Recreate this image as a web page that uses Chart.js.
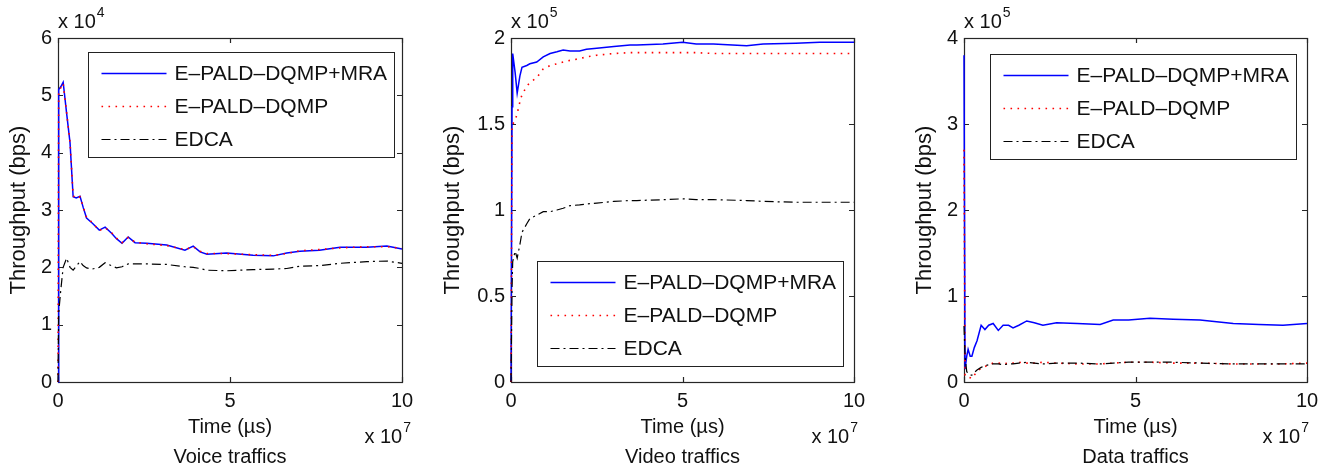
<!DOCTYPE html>
<html lang="en">
<head>
<meta charset="UTF-8">
<title>Throughput vs time - voice, video and data traffics</title>
<script src="https://cdn.jsdelivr.net/npm/chart.js"></script>
<style>
  body { margin: 0; background: #fff; }
  #wrap { position: relative; width: 1330px; height: 472px; overflow: hidden; }
  .panel { position: absolute; top: 0; }
</style>
</head>
<body>
<div id="wrap">
  <div class="panel" style="left:0px"><canvas id="voiceChart" width="430" height="472"></canvas></div>
  <div class="panel" style="left:430px"><canvas id="videoChart" width="460" height="472"></canvas></div>
  <div class="panel" style="left:890px"><canvas id="dataChart" width="440" height="472"></canvas></div>
</div>
<script>
// series names, same in all three panels
const seriesNames = ['E\u2013PALD\u2013DQMP+MRA', 'E\u2013PALD\u2013DQMP', 'EDCA'];

// Voice traffics: time in units of 10^7 us, throughput in units of 10^4 bps
const voiceTime = [0, 0.02, 0.08, 0.15, 0.25, 0.35, 0.44, 0.53, 0.64, 0.73, 0.83, 1.0, 1.2, 1.37, 1.55, 1.7, 1.86, 2.04, 2.24, 2.58, 3.16, 3.69, 3.93, 4.13, 4.33, 4.9, 5.67, 6.26, 6.65, 7.03, 7.6, 8.2, 8.98, 9.56, 10];
const voiceMra  = [0, 5.1, 5.15, 5.23, 4.69, 4.17, 3.23, 3.21, 3.24, 3.05, 2.86, 2.77, 2.65, 2.7, 2.6, 2.5, 2.42, 2.53, 2.43, 2.42, 2.39, 2.30, 2.37, 2.27, 2.23, 2.25, 2.21, 2.2, 2.25, 2.28, 2.3, 2.35, 2.35, 2.37, 2.32];
const voiceDqmp = [0, 5.08, 5.13, 5.21, 4.7, 4.18, 3.25, 3.2, 3.23, 3.06, 2.87, 2.78, 2.64, 2.69, 2.61, 2.51, 2.43, 2.52, 2.44, 2.41, 2.38, 2.31, 2.36, 2.28, 2.24, 2.24, 2.22, 2.21, 2.24, 2.29, 2.31, 2.34, 2.36, 2.36, 2.33];
const voiceEdca = [0, 1.2, 1.6, 2.0, 2.16, 2.0, 1.95, 2.02, 2.1, 2.03, 1.99, 1.97, 2.0, 2.08, 2.03, 1.99, 2.01, 2.06, 2.06, 2.06, 2.05, 2.01, 2.0, 1.98, 1.95, 1.94, 1.96, 1.97, 1.98, 2.02, 2.03, 2.07, 2.1, 2.11, 2.07];

// Video traffics: time in units of 10^7 us, throughput in units of 10^5 bps
const videoTime = [0, 0.03, 0.05, 0.12, 0.18, 0.26, 0.32, 0.46, 0.55, 0.75, 0.94, 1.14, 1.34, 1.52, 1.72, 2.0, 2.2, 2.5, 3.0, 3.47, 3.67, 4.43, 5.0, 5.4, 5.9, 6.87, 7.35, 8.3, 9.0, 10];
const videoMra  = [0, 1.6, 1.91, 1.8, 1.68, 1.78, 1.83, 1.84, 1.85, 1.86, 1.89, 1.91, 1.92, 1.93, 1.925, 1.925, 1.935, 1.94, 1.95, 1.96, 1.96, 1.965, 1.975, 1.965, 1.965, 1.955, 1.965, 1.97, 1.975, 1.975];
const videoDqmp = [0, 1.5, 1.5, 1.52, 1.56, 1.63, 1.67, 1.72, 1.74, 1.77, 1.82, 1.84, 1.85, 1.86, 1.87, 1.88, 1.89, 1.9, 1.91, 1.915, 1.915, 1.915, 1.915, 1.915, 1.91, 1.91, 1.91, 1.91, 1.91, 1.91];
const videoEdca = [0, 0.55, 0.7, 0.76, 0.72, 0.8, 0.87, 0.92, 0.95, 0.97, 0.99, 0.99, 1.0, 1.01, 1.025, 1.03, 1.035, 1.04, 1.05, 1.055, 1.055, 1.06, 1.065, 1.06, 1.06, 1.055, 1.05, 1.045, 1.045, 1.045];

// Data traffics: time in units of 10^7 us, throughput in units of 10^5 bps
const dataTime = [0, 0.03, 0.08, 0.12, 0.18, 0.23, 0.3, 0.38, 0.5, 0.61, 0.72, 0.85, 1.0, 1.14, 1.3, 1.43, 1.6, 1.83, 2.05, 2.3, 2.7, 3.3, 3.97, 4.35, 4.8, 5.42, 6.1, 6.88, 7.85, 8.6, 9.3, 10];
const dataMra  = [3.8, 0.15, 0.3, 0.38, 0.3, 0.3, 0.4, 0.48, 0.66, 0.61, 0.66, 0.68, 0.6, 0.66, 0.66, 0.63, 0.66, 0.71, 0.69, 0.66, 0.69, 0.68, 0.67, 0.72, 0.72, 0.74, 0.73, 0.72, 0.68, 0.67, 0.66, 0.68];
const dataDqmp = [2.7, 0.07, 0.07, 0.06, 0.05, 0.04, 0.08, 0.12, 0.16, 0.18, 0.2, 0.22, 0.22, 0.21, 0.22, 0.22, 0.23, 0.22, 0.22, 0.23, 0.22, 0.21, 0.21, 0.22, 0.23, 0.23, 0.22, 0.22, 0.21, 0.21, 0.21, 0.22];
const dataEdca = [0.65, 0.3, 0.12, 0.1, 0.08, 0.08, 0.11, 0.14, 0.17, 0.19, 0.2, 0.21, 0.21, 0.2, 0.21, 0.21, 0.22, 0.23, 0.22, 0.21, 0.22, 0.22, 0.21, 0.22, 0.23, 0.23, 0.23, 0.22, 0.21, 0.21, 0.21, 0.21];

// axis ranges and tick labels
const xTicks = [0, 5, 10];
const voiceYTicks = [0, 1, 2, 3, 4, 5, 6];
const videoYTicks = [0, 0.5, 1, 1.5, 2];
const dataYTicks = [0, 1, 2, 3, 4];

const FONT = "'Liberation Sans', Arial, sans-serif";
Chart.defaults.font.family = FONT;
Chart.defaults.color = '#111';

const lineStyles = [
  { color: '#0000ff', width: 1.5, dash: [] },
  { color: '#ff0000', width: 1.6, dash: [1.6, 5.4] },
  { color: '#000000', width: 1.2, dash: [9, 4, 2, 4] }
];

function toPoints(time, vals) {
  return time.map((t, i) => ({ x: t, y: vals[i] }));
}

// MATLAB-like box and inward ticks (under the lines), legend and exponent labels (on top)
const matlabAxes = {
  id: 'matlabAxes',
  beforeDatasetsDraw(chart) {
    const { ctx, chartArea: a, scales: { x, y } } = chart;
    ctx.save();
    ctx.strokeStyle = '#262626';
    ctx.lineWidth = 1.2;
    ctx.beginPath();
    x.ticks.forEach(t => {
      const px = Math.round(x.getPixelForValue(t.value)) + 0.5;
      ctx.moveTo(px, a.bottom); ctx.lineTo(px, a.bottom - 5);
      ctx.moveTo(px, a.top); ctx.lineTo(px, a.top + 5);
    });
    y.ticks.forEach(t => {
      const py = Math.round(y.getPixelForValue(t.value)) + 0.5;
      ctx.moveTo(a.left, py); ctx.lineTo(a.left + 5, py);
      ctx.moveTo(a.right, py); ctx.lineTo(a.right - 5, py);
    });
    ctx.stroke();
    ctx.strokeRect(Math.round(a.left) + 0.5, Math.round(a.top) + 0.5, Math.round(a.width), Math.round(a.height));
    ctx.restore();
  },
  afterDatasetsDraw(chart, args, o) {
    const { ctx, chartArea: a } = chart;
    ctx.save();
    // legend
    const lw = 306, lh = 105;
    const lx = Math.round(a.right - o.legendInset[0] - lw) + 0.5;
    const ly = Math.round(o.legendCorner === 'ne' ? a.top + o.legendInset[1] : a.bottom - o.legendInset[1] - lh) + 0.5;
    ctx.fillStyle = '#fff';
    ctx.fillRect(lx, ly, lw, lh);
    ctx.lineWidth = 1;
    ctx.strokeStyle = '#222';
    ctx.strokeRect(lx, ly, lw, lh);
    ctx.font = '21px ' + FONT;
    ctx.textBaseline = 'middle';
    ctx.textAlign = 'left';
    // datasets are stored EDCA, DQMP, MRA (drawing order), legend lists MRA first
    const items = chart.data.datasets.slice().reverse();
    items.forEach((ds, i) => {
      const ry = ly + 21 + i * 33;
      ctx.strokeStyle = ds.borderColor;
      ctx.lineWidth = ds.borderWidth;
      ctx.setLineDash(ds.borderDash);
      ctx.beginPath();
      ctx.moveTo(lx + 13, ry);
      ctx.lineTo(lx + 78, ry);
      ctx.stroke();
      ctx.fillStyle = '#111';
      ctx.fillText(ds.label, lx + 86, ry + 1);
    });
    ctx.setLineDash([]);

    // exponent labels
    ctx.fillStyle = '#111';
    ctx.textBaseline = 'alphabetic';
    ctx.font = '20px ' + FONT;
    const base = 'x 10';
    const bw = ctx.measureText(base).width;
    ctx.fillText(base, a.left, a.top - 10);
    ctx.font = '14px ' + FONT;
    ctx.fillText(String(o.yExp), a.left + bw + 1, a.top - 21);
    const sw = ctx.measureText('7').width;
    const xr = a.right + o.xExpOffset - sw;
    ctx.fillText('7', xr, a.bottom + 50);
    ctx.font = '20px ' + FONT;
    ctx.textAlign = 'right';
    ctx.fillText(base, xr - 1, a.bottom + 61);
    ctx.restore();
  }
};

function makeChart(id, p) {
  const datasets = [2, 1, 0].map(k => ({
    label: seriesNames[k],
    data: toPoints(p.time, p.series[k]),
    borderColor: lineStyles[k].color,
    borderWidth: lineStyles[k].width,
    borderDash: lineStyles[k].dash,
    pointRadius: 0,
    tension: 0,
    fill: false,
    clip: 2
  }));
  return new Chart(document.getElementById(id), {
    type: 'line',
    data: { datasets },
    plugins: [matlabAxes],
    options: {
      responsive: false,
      animation: false,
      events: [],
      devicePixelRatio: 1,
      layout: { padding: { left: 0, right: p.padRight, top: 38, bottom: 0 } },
      scales: {
        x: {
          type: 'linear', min: 0, max: 10,
          afterBuildTicks: s => { s.ticks = xTicks.map(v => ({ value: v })); },
          afterFit: s => { s.height = 57; },
          grid: { display: false, drawTicks: false },
          border: { display: false },
          ticks: { padding: 7, font: { size: 20 }, color: '#111', callback: v => String(v) },
          title: { display: true, text: 'Time (\u00b5s)', font: { size: 20 }, color: '#111', padding: { top: 0, bottom: 0 } }
        },
        y: {
          type: 'linear', min: 0, max: p.yTicks[p.yTicks.length - 1],
          afterBuildTicks: s => { s.ticks = p.yTicks.map(v => ({ value: v })); },
          afterFit: s => { s.width = p.yWidth; },
          grid: { display: false, drawTicks: false },
          border: { display: false },
          ticks: { padding: 6, font: { size: 20 }, color: '#111', callback: v => String(v) },
          title: { display: true, text: 'Throughput (bps)', font: { size: 22 }, color: '#111', padding: { top: p.yTitlePad, bottom: 0 } }
        }
      },
      plugins: {
        legend: { display: false },
        tooltip: { enabled: false },
        title: {
          display: true, position: 'bottom', fullSize: false,
          text: p.title, color: '#111', font: { size: 20, weight: 'normal' },
          padding: { top: 6, bottom: 3 }
        },
        matlabAxes: { legendCorner: p.legendCorner, legendInset: p.legendInset, yExp: p.yExp, xExpOffset: p.xExpOffset }
      }
    }
  });
}

makeChart('voiceChart', {
  time: voiceTime, series: [voiceMra, voiceDqmp, voiceEdca], yTicks: voiceYTicks, yExp: 4,
  title: 'Voice traffics', yWidth: 58, padRight: 28, yTitlePad: 6,
  legendCorner: 'ne', legendInset: [8, 14], xExpOffset: 9
});
makeChart('videoChart', {
  time: videoTime, series: [videoMra, videoDqmp, videoEdca], yTicks: videoYTicks, yExp: 5,
  title: 'Video traffics', yWidth: 81, padRight: 36, yTitlePad: 10,
  legendCorner: 'se', legendInset: [11, 16], xExpOffset: 4
});
makeChart('dataChart', {
  time: dataTime, series: [dataMra, dataDqmp, dataEdca], yTicks: dataYTicks, yExp: 5,
  title: 'Data traffics', yWidth: 74, padRight: 23, yTitlePad: 22,
  legendCorner: 'ne', legendInset: [11, 16], xExpOffset: 2
});
</script>
</body>
</html>
